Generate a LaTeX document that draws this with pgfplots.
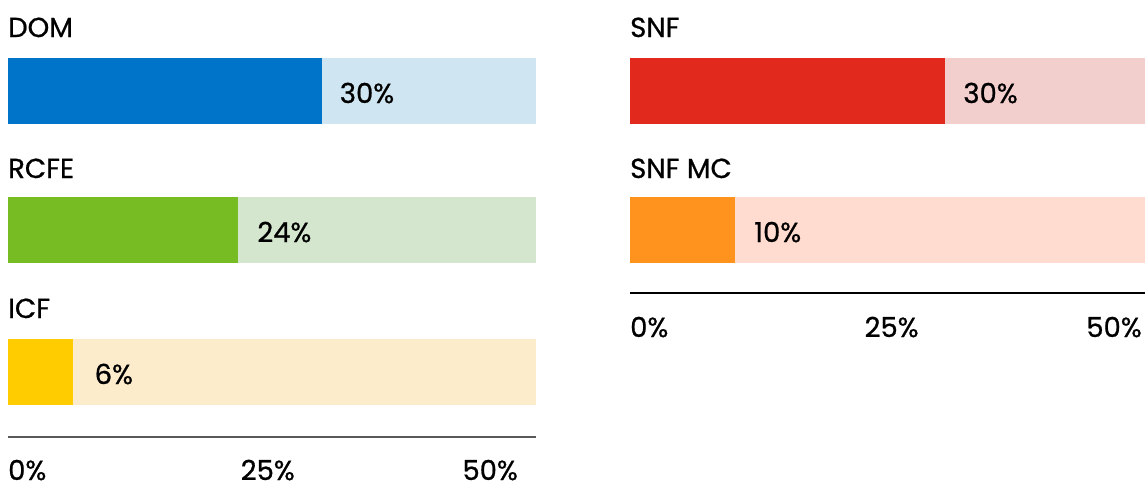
\documentclass[border=0pt]{standalone}
\usepackage{pgfplots}
\pgfplotsset{compat=1.18}
\usepackage{fontspec}
\setmainfont{Poppins}[FakeBold=0.8]
\definecolor{domD}{HTML}{0074C8}
\definecolor{domL}{HTML}{CFE6F2}
\definecolor{rcfeD}{HTML}{77BC22}
\definecolor{rcfeL}{HTML}{D5E6CE}
\definecolor{icfD}{HTML}{FFCC00}
\definecolor{icfL}{HTML}{FCECCC}
\definecolor{snfD}{HTML}{E1291E}
\definecolor{snfL}{HTML}{F2CECD}
\definecolor{mcD}{HTML}{FF931E}
\definecolor{mcL}{HTML}{FFDCCF}
\begin{document}
\begin{tikzpicture}
\pgfplotsset{panel/.style={scale only axis, hide axis, clip=false,
  xmin=0, xmax=50, ymin=0, ymax=487, y dir=reverse,
  height=487bp, anchor=north west}}
\tikzset{lbl/.style={font=\fontsize{27.5bp}{32bp}\selectfont, inner sep=0pt, anchor=base west}}
% left panel
\begin{axis}[panel, width=528bp, at={(8bp,0bp)}]
\addplot[xbar, bar width=66, bar shift=0pt, draw=none, fill=domL] coordinates {(50,91)};
\addplot[xbar, bar width=66, bar shift=0pt, draw=none, fill=domD] coordinates {(29.7,91)};
\addplot[xbar, bar width=66, bar shift=0pt, draw=none, fill=rcfeL] coordinates {(50,230)};
\addplot[xbar, bar width=66, bar shift=0pt, draw=none, fill=rcfeD] coordinates {(21.8,230)};
\addplot[xbar, bar width=66, bar shift=0pt, draw=none, fill=icfL] coordinates {(50,372)};
\addplot[xbar, bar width=66, bar shift=0pt, draw=none, fill=icfD] coordinates {(6.2,372)};
\addplot[draw=black!65, line width=1.2bp] coordinates {(0,437) (50,437)};
\node[lbl] at (axis cs:0,37) {DOM};
\node[lbl] at (axis cs:0,178) {RCFE};
\node[lbl] at (axis cs:0,318) {ICF};
\node[lbl, xshift=18bp] at (axis cs:29.7,103) {30\%};
\node[lbl, xshift=19bp] at (axis cs:21.8,242) {24\%};
\node[lbl, xshift=21bp] at (axis cs:6.2,384) {6\%};
\node[lbl] at (axis cs:0,480) {0\%};
\node[lbl, anchor=base] at (axis cs:24.6,480) {25\%};
\node[lbl, anchor=base east] at (axis cs:48.3,480) {50\%};
\end{axis}
% right panel
\begin{axis}[panel, width=515bp, at={(630bp,0bp)}]
\addplot[xbar, bar width=66, bar shift=0pt, draw=none, fill=snfL] coordinates {(50,91)};
\addplot[xbar, bar width=66, bar shift=0pt, draw=none, fill=snfD] coordinates {(30.6,91)};
\addplot[xbar, bar width=66, bar shift=0pt, draw=none, fill=mcL] coordinates {(50,230)};
\addplot[xbar, bar width=66, bar shift=0pt, draw=none, fill=mcD] coordinates {(10.2,230)};
\addplot[draw=black, line width=1.2bp] coordinates {(0,293) (50,293)};
\node[lbl] at (axis cs:0,37) {SNF};
\node[lbl] at (axis cs:0,178) {SNF MC};
\node[lbl, xshift=18bp] at (axis cs:30.6,103) {30\%};
\node[lbl, xshift=19bp] at (axis cs:10.2,242) {10\%};
\node[lbl] at (axis cs:0,337) {0\%};
\node[lbl, anchor=base] at (axis cs:25.4,337) {25\%};
\node[lbl, anchor=base east] at (axis cs:49.7,337) {50\%};
\end{axis}
\pgfresetboundingbox
\path (0,0) rectangle (1146bp,-487bp);
\end{tikzpicture}
\end{document}
